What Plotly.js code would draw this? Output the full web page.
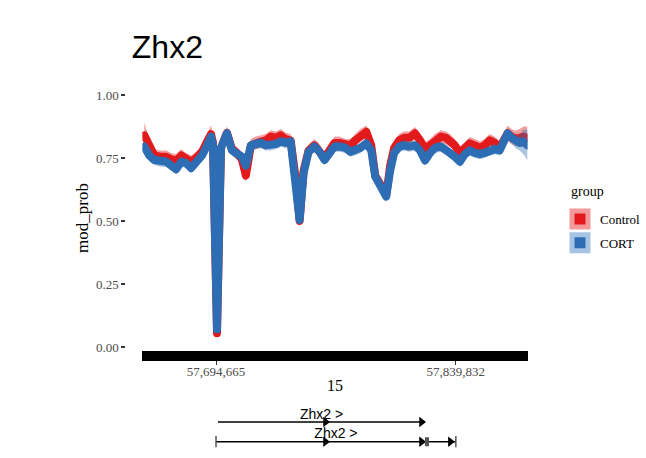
<!DOCTYPE html>
<html>
<head>
<meta charset="utf-8">
<script src="https://cdn.plot.ly/plotly-3.0.1.min.js"></script>
<style>
  html, body { margin: 0; padding: 0; background: #fff; }
  #chart { width: 646px; height: 458px; }
  #chart .subplot.xy path.js-line { stroke-linejoin: round !important; stroke-linecap: round !important; }
</style>
</head>
<body>
<div id="chart"></div>
<script>
// Methylation probability along the Zhx2 locus (chr15), Control vs CORT.

const positions = [
  57651292, 57654304, 57657316, 57660931, 57664545, 57667557, 57670569, 57673581, 57676593, 57679605,
  57682617, 57686231, 57689243, 57691653, 57692858, 57695267, 57697677, 57701291, 57704303, 57707315,
  57710327, 57712737, 57715749, 57718761, 57721773, 57724785, 57727797, 57730809, 57733821, 57736833,
  57739845, 57742857, 57745267, 57747676, 57750688, 57754303, 57757315, 57760327, 57763339, 57766351,
  57769363, 57772977, 57775989, 57779001, 57782013, 57785627, 57788639, 57791049, 57794663, 57797675,
  57800085, 57802495, 57805507, 57808519, 57811531, 57815145, 57818157, 57821169, 57824181, 57827193,
  57830807, 57833819, 57836229, 57839241, 57842253, 57845265, 57848277, 57851289, 57854301, 57857313,
  57860325, 57863337, 57866349, 57868759, 57871168, 57873578, 57875987, 57878397, 57880807, 57883216,
];

const controlMean = [
  0.84, 0.79, 0.76, 0.755, 0.755, 0.745, 0.74, 0.76, 0.745, 0.735,
  0.75, 0.775, 0.815, 0.845, 0.81, 0.055, 0.79, 0.85, 0.785, 0.77,
  0.745, 0.68, 0.80, 0.81, 0.815, 0.82, 0.835, 0.83, 0.84, 0.825,
  0.82, 0.67, 0.50, 0.70, 0.78, 0.80, 0.78, 0.75, 0.78, 0.81,
  0.81, 0.80, 0.80, 0.82, 0.84, 0.854, 0.80, 0.68, 0.64, 0.60,
  0.72, 0.79, 0.82, 0.83, 0.83, 0.848, 0.82, 0.788, 0.80, 0.82,
  0.835, 0.83, 0.82, 0.80, 0.77, 0.79, 0.808, 0.80, 0.79, 0.80,
  0.82, 0.81, 0.79, 0.82, 0.848, 0.835, 0.828, 0.83, 0.835, 0.83,
];
const controlSe = [
  0.05, 0.035, 0.025, 0.025, 0.025, 0.025, 0.025, 0.025, 0.025, 0.025,
  0.025, 0.025, 0.03, 0.035, 0.03, 0.02, 0.025, 0.025, 0.025, 0.025,
  0.025, 0.025, 0.025, 0.025, 0.025, 0.025, 0.025, 0.025, 0.025, 0.025,
  0.025, 0.025, 0.02, 0.025, 0.025, 0.025, 0.025, 0.025, 0.025, 0.025,
  0.025, 0.025, 0.025, 0.025, 0.025, 0.025, 0.025, 0.025, 0.025, 0.025,
  0.025, 0.025, 0.025, 0.025, 0.025, 0.025, 0.025, 0.025, 0.025, 0.025,
  0.025, 0.025, 0.025, 0.025, 0.025, 0.025, 0.025, 0.025, 0.025, 0.025,
  0.025, 0.025, 0.025, 0.025, 0.03, 0.03, 0.03, 0.035, 0.04, 0.045,
];

const cortMean = [
  0.795, 0.76, 0.742, 0.735, 0.735, 0.72, 0.705, 0.735, 0.73, 0.71,
  0.73, 0.76, 0.80, 0.835, 0.80, 0.07, 0.79, 0.848, 0.78, 0.765,
  0.755, 0.72, 0.80, 0.805, 0.81, 0.80, 0.80, 0.805, 0.815, 0.81,
  0.815, 0.66, 0.504, 0.69, 0.775, 0.795, 0.775, 0.742, 0.775, 0.795,
  0.795, 0.79, 0.775, 0.78, 0.79, 0.808, 0.78, 0.676, 0.64, 0.597,
  0.70, 0.77, 0.795, 0.80, 0.795, 0.80, 0.78, 0.74, 0.77, 0.79,
  0.795, 0.785, 0.77, 0.755, 0.735, 0.765, 0.78, 0.77, 0.765, 0.77,
  0.78, 0.785, 0.78, 0.81, 0.848, 0.83, 0.815, 0.81, 0.815, 0.80,
];
const cortSe = [
  0.025, 0.022, 0.02, 0.02, 0.02, 0.02, 0.02, 0.02, 0.02, 0.02,
  0.02, 0.02, 0.02, 0.02, 0.02, 0.015, 0.02, 0.02, 0.02, 0.02,
  0.02, 0.02, 0.02, 0.02, 0.02, 0.02, 0.02, 0.02, 0.02, 0.02,
  0.02, 0.02, 0.015, 0.02, 0.02, 0.02, 0.02, 0.02, 0.02, 0.02,
  0.02, 0.02, 0.02, 0.02, 0.02, 0.02, 0.02, 0.02, 0.02, 0.02,
  0.02, 0.02, 0.02, 0.02, 0.02, 0.02, 0.02, 0.02, 0.02, 0.02,
  0.02, 0.02, 0.02, 0.02, 0.02, 0.02, 0.02, 0.02, 0.02, 0.02,
  0.02, 0.02, 0.02, 0.02, 0.02, 0.022, 0.025, 0.03, 0.05, 0.06,
];

const xTickVals = [57694665, 57839832];
const xTickText = ["57,694,665", "57,839,832"];
const yTickVals = [0, 0.25, 0.5, 0.75, 1];
const yTickText = ["0.00", "0.25", "0.50", "0.75", "1.00"];

// gene model track: two Zhx2 transcripts
const txLabel = ["Zhx2 >", "Zhx2 >"];
const txRow = [2, 1];
const txStart = [57695870, 57694665];
const txEnd = [57821169, 57839832];
const txLabelPos = [57758519, 57767255];
const txArrows = [[57760929, 57819061], [57760929, 57819061, 57836530]];
const txEndTicks = [[], [57694665, 57839832]];
const exonStart = [57821169];
const exonEnd = [57823579];
const exonRow = [1];

const COLORS = {
  Control: { line: "#e31a1c", fill: "rgba(228,26,28,0.42)", key: "#f29a9b" },
  CORT: { line: "#2c6db4", fill: "rgba(44,109,180,0.40)", key: "#a6c3e3" },
};
const SERIF = "Liberation Serif, Times New Roman, serif";
const SANS = "Liberation Sans, Arial, sans-serif";

function groupTraces(name, mean, se) {
  const lo = mean.map((v, i) => v - se[i]);
  const hi = mean.map((v, i) => v + se[i]);
  const c = COLORS[name];
  return [
    { x: positions, y: lo, mode: "lines", line: { width: 0 }, showlegend: false, hoverinfo: "skip" },
    {
      x: positions, y: mean, mode: "lines", name, showlegend: false,
      fill: "tonexty", fillcolor: c.fill, line: { color: c.line, width: 8 },
    },
    {
      x: positions, y: hi, mode: "lines", line: { width: 0 }, showlegend: false, hoverinfo: "skip",
      fill: "tonexty", fillcolor: c.fill,
    },
    // legend key: ribbon-coloured box around the line colour
    {
      x: [null], y: [null], mode: "markers", name, legendgroup: name, showlegend: true,
      marker: { symbol: "square", size: 16, color: c.line, line: { color: c.key, width: 5 } },
    },
  ];
}

const traces = [
  ...groupTraces("Control", controlMean, controlSe),
  ...groupTraces("CORT", cortMean, cortSe),
];

// transcripts on the lower track
txRow.forEach((row, i) => {
  traces.push({
    x: [txStart[i], txEnd[i]], y: [row, row], xaxis: "x", yaxis: "y2",
    mode: "lines", line: { color: "#000", width: 1.5 }, showlegend: false, hoverinfo: "skip",
  });
  traces.push({
    x: txArrows[i], y: txArrows[i].map(() => row), xaxis: "x", yaxis: "y2",
    mode: "markers", marker: { symbol: "triangle-right", size: 9, color: "#000" },
    showlegend: false, hoverinfo: "skip", cliponaxis: false,
  });
  if (txEndTicks[i].length) {
    traces.push({
      x: txEndTicks[i], y: txEndTicks[i].map(() => row), xaxis: "x", yaxis: "y2",
      mode: "markers", marker: { symbol: "line-ns", size: 8, line: { color: "#555", width: 1.5 } },
      showlegend: false, hoverinfo: "skip", cliponaxis: false,
    });
  }
  traces.push({
    x: [txLabelPos[i]], y: [row], xaxis: "x", yaxis: "y2",
    mode: "text", text: [txLabel[i]], textposition: "top center",
    textfont: { family: SANS, size: 14, color: "#000" },
    showlegend: false, hoverinfo: "skip", cliponaxis: false,
  });
});
exonRow.forEach((row, i) => {
  traces.push({
    x: [exonStart[i], exonEnd[i]], y: [row, row], xaxis: "x", yaxis: "y2",
    mode: "lines", line: { color: "#555", width: 9 }, showlegend: false, hoverinfo: "skip",
  });
});

const layout = {
  width: 646,
  height: 458,
  margin: { l: 0, r: 0, t: 0, b: 0 },
  paper_bgcolor: "#fff",
  plot_bgcolor: "rgba(0,0,0,0)",
  font: { family: SERIF, color: "#000" },
  title: {
    text: "Zhx2",
    font: { family: SANS, size: 32, color: "#000" },
    xref: "paper", x: 0.205, xanchor: "left",
    yref: "paper", y: 0.897, yanchor: "middle",
  },
  showlegend: true,
  legend: {
    x: 0.8715, xanchor: "left", y: 0.5546, yanchor: "top",
    font: { family: SERIF, size: 13 },
    itemwidth: 30,
    tracegroupgap: 4,
    bgcolor: "rgba(0,0,0,0)",
  },
  annotations: [{
    text: "group", showarrow: false,
    xref: "paper", x: 0.8854, xanchor: "left",
    yref: "paper", y: 0.5808, yanchor: "middle",
    font: { family: SERIF, size: 14, color: "#000" },
  }],
  xaxis: {
    domain: [0.2214, 0.8204],
    range: [57650087, 57883216],
    anchor: "y",
    showline: true, linewidth: 10, linecolor: "#000",
    ticks: "outside", ticklen: 4, tickwidth: 1, tickcolor: "#333",
    tickvals: xTickVals, ticktext: xTickText,
    tickfont: { family: SERIF, size: 13, color: "#4d4d4d" },
    ticklabelstandoff: -5,
    showgrid: false, zeroline: false,
    title: { text: "15", font: { family: SERIF, size: 16, color: "#000" }, standoff: 6 },
  },
  yaxis: {
    domain: [0.2336, 0.8144],
    range: [-0.0159, 1.0397],
    anchor: "free", position: 0.195,
    showline: false, ticks: "outside", ticklen: 4, tickwidth: 1.5, tickcolor: "#333",
    tickvals: yTickVals, ticktext: yTickText,
    tickfont: { family: SERIF, size: 13, color: "#4d4d4d" },
    showgrid: false, zeroline: false,
    title: { text: "mod_prob", font: { family: SERIF, size: 17, color: "#000" }, standoff: 2 },
  },
  yaxis2: {
    domain: [0.0098, 0.1044],
    range: [0.4, 2.6],
    anchor: "x",
    visible: false, showgrid: false, zeroline: false,
  },
};

Plotly.newPlot("chart", traces, layout, { displayModeBar: false, staticPlot: true });
</script>
</body>
</html>
